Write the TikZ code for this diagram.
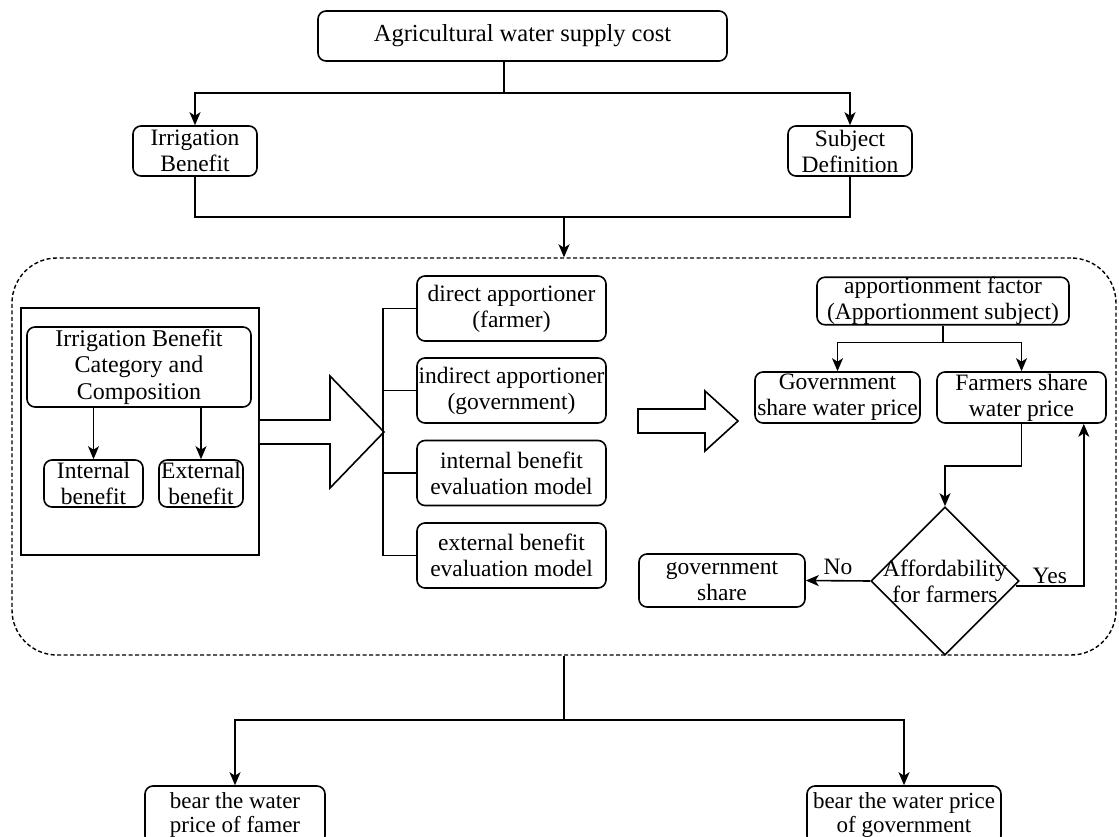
\documentclass[tikz,border=0pt]{standalone}
\usepackage{fontspec}
\setmainfont{Liberation Serif}
\usetikzlibrary{shapes.geometric,arrows.meta,calc}
\begin{document}
\begin{tikzpicture}[x=1pt,y=-1pt,
  txt/.style={font=\fontsize{23.5}{26}\selectfont},
  box/.style={draw, rounded corners=8pt, line width=1.6pt, align=center, inner sep=0pt, txt},
  sq/.style={draw, line width=1.6pt, inner sep=0pt},
  arr/.style={-{Stealth[length=13pt,width=11pt,inset=3.5pt]}, line width=1.6pt},
  ln/.style={line width=1.6pt},
  blk/.style={draw, line width=1.6pt, fill=white, line join=miter}
]
\useasboundingbox (0,0) rectangle (1119,837);
\clip (0,0) rectangle (1119,837);

% top level
\node[box, minimum width=409pt, minimum height=50pt, font=\fontsize{24.5}{27}\selectfont] (top) at (522.5,36) {Agricultural water supply cost};
\node[box, minimum width=124pt, minimum height=50pt] (ib) at (195,151) {Irrigation\\Benefit};
\node[box, minimum width=124pt, minimum height=50pt] (sd) at (850,151) {Subject\\Definition};

% dashed container
\node[draw, dash pattern=on 4pt off 2.5pt, line width=1.4pt, rounded corners=45pt, minimum width=1104pt, minimum height=397pt, inner sep=0pt] (cont) at (564,456.5) {};

% left block
\node[sq, minimum width=238pt, minimum height=247pt] (lb) at (140,431.5) {};
\node[box, minimum width=224pt, minimum height=80pt, font=\fontsize{24}{26.5}\selectfont] (cat) at (139,367) {Irrigation Benefit\\Category and\\Composition};
\node[box, minimum width=99pt, minimum height=47pt] (intb) at (93.5,483.5) {Internal\\benefit};
\node[box, minimum width=84pt, minimum height=47pt] (extb) at (201,483.5) {External\\benefit};

% middle list
\node[box, minimum width=189pt, minimum height=65pt] (d1) at (511.5,308.5) {direct apportioner\\(farmer)};
\node[box, minimum width=189pt, minimum height=65pt] (d2) at (511.5,390.5) {indirect apportioner\\(government)};
\node[box, minimum width=189pt, minimum height=65pt] (d3) at (511.5,473) {internal benefit\\evaluation model};
\node[box, minimum width=189pt, minimum height=65pt] (d4) at (511.5,555.5) {external benefit\\evaluation model};

% right part
\node[box, minimum width=252pt, minimum height=46pt] (af) at (943,301) {apportionment factor\\(Apportionment subject)};
\node[box, minimum width=165pt, minimum height=51pt] (gsp) at (837.5,397.5) {Government\\share water price};
\node[box, minimum width=169pt, minimum height=51pt] (fsp) at (1021.5,397.5) {Farmers share\\water price};
\node[draw, diamond, line width=1.6pt, minimum width=148pt, minimum height=148pt, inner sep=0pt,
      label={[txt, align=center]center:Affordability\\for farmers}] (dia) at (945,581) {};
\node[box, minimum width=166pt, minimum height=53pt] (gs) at (722,580.5) {government\\share};

% bottom
\node[box, minimum width=180pt, minimum height=58pt, font=\fontsize{23}{24.5}\selectfont] (bf) at (235,815) {bear the water\\price of famer};
\node[box, minimum width=194pt, minimum height=58pt, font=\fontsize{23}{24.5}\selectfont] (bg) at (904,815) {bear the water price\\of government};

% connectors top
\coordinate (tj) at (504,93);
\draw[ln] (top.south -| tj) -- (tj);
\draw[arr] (tj) -| (ib.north);
\draw[arr] (tj) -| (sd.north);
\coordinate (mj) at (cont.north |- 0,217);
\draw[ln] (ib.south) |- (sd.south |- mj) -- (sd.south);
\draw[arr] (mj) -- (cont.north);

% left block arrows
\draw[arr] (cat.south -| intb.north) -- (intb.north);
\draw[arr] (cat.south -| extb.north) -- (extb.north);

% big block arrow
\draw[blk] (lb.east |- 0,420) -- (330,420) -- (330,376) -- (384,432) -- (330,488) -- (330,444) -- (lb.east |- 0,444);

% bracket
\draw[ln] (d1.west) -- ++(-33,0) |- (d4.west);
\draw[ln] (d2.west) -- ++(-33,0);
\draw[ln] (d3.west) -- ++(-33,0);

% middle block arrow
\draw[blk] (638,409) -- (705,409) -- (705,391) -- (738,421) -- (705,451) -- (705,433) -- (638,433) -- cycle;

% right connectors
\coordinate (aj) at ($(af.south)+(0,17)$);
\draw[ln] (af.south) -- (aj);
\draw[arr] (aj) -| (gsp.north);
\draw[arr] (aj) -| (fsp.north);
\draw[arr] (fsp.south) -- ++(0,42) -| (dia.north);
\draw[arr] (dia.west) -- (gs.east) node[midway, above=2pt, txt] {No};
\draw[arr] ($(dia.east)+(-4,5)$) -| ($(fsp.south east)+(-23,0)$) node[pos=0.25, above=-2pt, txt] {Yes};

% bottom connectors
\coordinate (bj) at (cont.south |- 0,720);
\draw[ln] (cont.south) -- (bj);
\draw[arr] (bj) -| (bf.north);
\draw[arr] (bj) -| (bg.north);
\end{tikzpicture}
\end{document}
